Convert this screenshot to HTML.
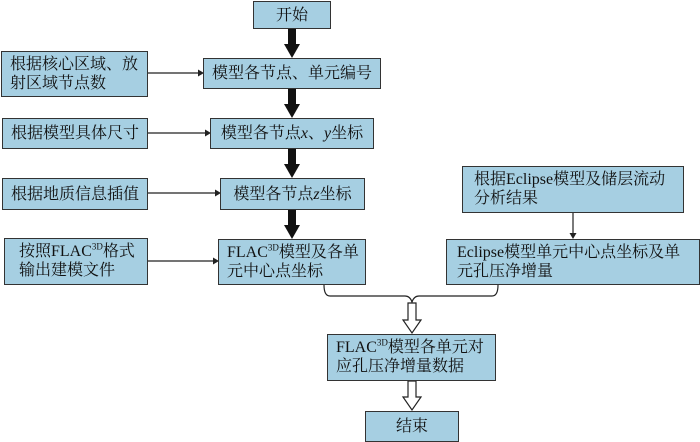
<!DOCTYPE html>
<html><head><meta charset="utf-8"><style>
body{margin:0;width:700px;height:442px;background:#fff;position:relative;overflow:hidden;font-family:"Liberation Serif","Noto Serif CJK SC","Noto Sans CJK SC",serif;}
.b{position:absolute;box-sizing:border-box;background:#a6cfe2;border:1.5px solid #333;font-size:16px;line-height:19px;color:#111;}
.c{display:flex;align-items:center;justify-content:center;}
.l{padding:3px 0 0 8px;}
sup{font-size:9px;line-height:0;}
svg{position:absolute;left:0;top:0;}
</style></head><body>
<svg width="700" height="442">
<g fill="#111">
<rect x="288" y="28" width="8" height="17"/><polygon points="284,44 300,44 292,58"/>
<rect x="288" y="88" width="8" height="17"/><polygon points="284,104 300,104 292,118"/>
<rect x="288" y="148" width="8" height="17"/><polygon points="284,164 300,164 292,178"/>
<rect x="288" y="209" width="8" height="17"/><polygon points="284,225 300,225 292,239"/>
</g>
<g stroke="#222" stroke-width="1.2" fill="none">
<line x1="147" y1="73" x2="198" y2="73"/><line x1="147" y1="133" x2="205" y2="133"/>
<line x1="147" y1="193" x2="215" y2="193"/><line x1="147" y1="261" x2="213" y2="261"/>
<line x1="573" y1="212" x2="573" y2="234"/>
<path d="M324,285 Q324,296 330,296 L405,296 Q410,296 412,302 Q414,296 419,296 L492,296 Q498,296 498,285"/>
</g>
<g fill="#222">
<polygon points="198,69.5 204,73 198,76.5"/><polygon points="205,129.5 211,133 205,136.5"/>
<polygon points="215,189.5 221,193 215,196.5"/><polygon points="213,257.5 219,261 213,264.5"/>
<polygon points="569.5,233 576.5,233 573,239"/>
</g>
<g stroke="#222" stroke-width="1.2" fill="#fff">
<polygon points="408,303 416,303 416,320 421,320 412,333 403,320 408,320"/>
<polygon points="408,381 416,381 416,397 421,397 412,410 403,397 408,397"/>
</g>
</svg>
<div class="b c" style="left:253px;top:1px;width:78px;height:28px">开始</div>
<div class="b l" style="left:1px;top:51px;width:147px;height:46px">根据核心区域、放<br>射区域节点数</div>
<div class="b c" style="left:203px;top:58px;width:178px;height:31px">模型各节点、单元编号</div>
<div class="b c" style="left:2px;top:118px;width:146px;height:31px">根据模型具体尺寸</div>
<div class="b c" style="left:210px;top:118px;width:164px;height:31px">模型各节点<i>x</i>、<i>y</i>坐标</div>
<div class="b c" style="left:2px;top:178px;width:146px;height:32px">根据地质信息插值</div>
<div class="b c" style="left:220px;top:178px;width:145px;height:32px">模型各节点<i>z</i>坐标</div>
<div class="b l" style="left:4px;top:238px;width:144px;height:47px;padding-left:14px">按照FLAC<sup>3D</sup>格式<br>输出建模文件</div>
<div class="b l" style="left:218px;top:239px;width:148px;height:46px">FLAC<sup>3D</sup>模型及各单<br>元中心点坐标</div>
<div class="b l" style="left:462px;top:166px;width:222px;height:47px;padding-left:11px">根据Eclipse模型及储层流动<br>分析结果</div>
<div class="b l" style="left:446px;top:239px;width:254px;height:46px;padding-left:10px">Eclipse模型单元中心点坐标及单<br>元孔压净增量</div>
<div class="b l" style="left:327px;top:334px;width:169px;height:47px">FLAC<sup>3D</sup>模型各单元对<br>应孔压净增量数据</div>
<div class="b c" style="left:365px;top:411px;width:94px;height:31px">结束</div>
</body></html>
